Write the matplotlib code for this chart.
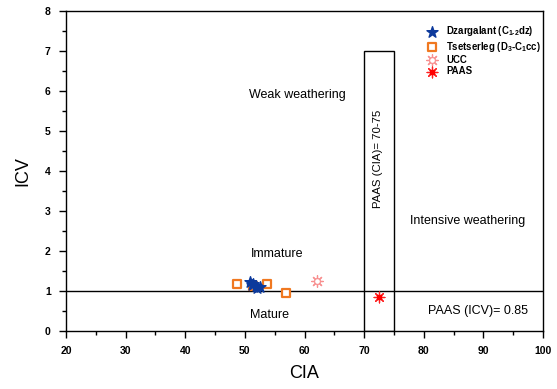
import matplotlib
matplotlib.use("Agg")
import matplotlib.pyplot as plt
from matplotlib.patches import Rectangle
from matplotlib.legend_handler import HandlerTuple
from matplotlib.ticker import MultipleLocator

plt.rcParams['font.family'] = ['Liberation Sans', 'DejaVu Sans']
plt.rcParams['mathtext.default'] = 'regular'

# CIA vs ICV samples
dz_cia = [50.8, 51.3, 51.2, 51.8, 52.0, 52.5]
dz_icv = [1.22, 1.17, 1.15, 1.12, 1.07, 1.10]
ts_cia = [48.7, 51.4, 53.7, 56.9]
ts_icv = [1.18, 1.12, 1.18, 0.95]
ucc_cia, ucc_icv = 62.1, 1.25
paas_cia, paas_icv = 72.5, 0.85
paas_cia_range = (70, 75)
icv_cut = 1.0

fig = plt.figure(figsize=(5.57, 3.89), dpi=100)
ax = fig.add_axes([0.1185, 0.149, 0.8565, 0.823])

# PAAS CIA window and ICV = 1 divide
ax.add_patch(Rectangle((paas_cia_range[0], 0), paas_cia_range[1] - paas_cia_range[0], 7,
                       fill=False, edgecolor='black', linewidth=1.0, zorder=2))
ax.axhline(icv_cut, color='black', linewidth=1.0, zorder=2)

ts = ax.scatter(ts_cia, ts_icv, marker='s', s=34, facecolors='white',
                edgecolors='#f07820', linewidths=1.6, zorder=3)
dz = ax.scatter(dz_cia, dz_icv, marker='*', s=70, color='#0d3a9c', zorder=4)
ucc1 = ax.scatter([ucc_cia], [ucc_icv], marker=(8, 2, 0), s=70, color='#f89090',
                  linewidths=0.9, zorder=4)
ucc2 = ax.scatter([ucc_cia], [ucc_icv], marker='o', s=18, facecolors='white',
                  edgecolors='#f89090', linewidths=0.9, zorder=5)
paas1 = ax.scatter([paas_cia], [paas_icv], marker=(8, 2, 0), s=60, color='#ff2020',
                   linewidths=0.9, zorder=4)
paas2 = ax.scatter([paas_cia], [paas_icv], marker='s', s=12, color='#ff0000', zorder=5)

ax.text(58.8, 5.9, 'Weak weathering', fontsize=9, ha='center', va='center')
ax.text(55.4, 1.93, 'Immature', fontsize=9, ha='center', va='center')
ax.text(54.2, 0.4, 'Mature', fontsize=9, ha='center', va='center')
ax.text(87.3, 2.75, 'Intensive weathering', fontsize=9, ha='center', va='center')
ax.text(89.1, 0.5, 'PAAS (ICV)= 0.85', fontsize=9, ha='center', va='center')
ax.text(72.3, 4.3, 'PAAS (CIA)= 70-75', fontsize=8.2, ha='center', va='center',
        rotation=90)

leg = fig.legend([dz, ts, (ucc1, ucc2), (paas1, paas2)],
                 ['Dzargalant (C$_{1\u20102}$dz)', 'Tsetserleg (D$_3$-C$_1$cc)', 'UCC', 'PAAS'],
                 handler_map={tuple: HandlerTuple(ndivide=1, pad=0)},
                 loc='upper left', bbox_to_anchor=(0.767, 0.938), frameon=False,
                 fontsize=6.9, handletextpad=1.0, labelspacing=0.15, borderpad=0,
                 borderaxespad=0, handlelength=1.0)
for t in leg.get_texts():
    t.set_fontweight('bold')

ax.set_xlim(20, 100)
ax.set_ylim(0, 8)
ax.xaxis.set_major_locator(MultipleLocator(10))
ax.xaxis.set_minor_locator(MultipleLocator(5))
ax.yaxis.set_major_locator(MultipleLocator(1))
ax.yaxis.set_minor_locator(MultipleLocator(0.5))
ax.tick_params(which='both', direction='out', top=False, right=False, width=1.0)
ax.tick_params(which='major', length=5, labelsize=7.5, pad=6)
ax.tick_params(which='minor', length=3)
for lab in ax.get_xticklabels() + ax.get_yticklabels():
    lab.set_fontweight('bold')
for sp in ax.spines.values():
    sp.set_linewidth(1.0)

ax.set_xlabel('CIA', fontsize=13, labelpad=6)
ax.set_ylabel('ICV', fontsize=13, labelpad=10)

fig.savefig('out.png', dpi=100)
